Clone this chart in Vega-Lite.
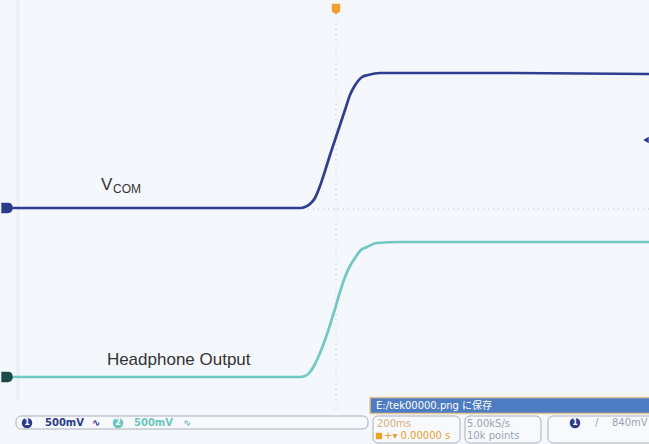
{
  "$schema": "https://vega.github.io/schema/vega-lite/v6.json",
  "width": 649,
  "height": 444,
  "padding": 0,
  "autosize": {"type": "none"},
  "background": "#f4f7fc",
  "config": {"view": {"stroke": null}, "font": "Liberation Sans"},
  "datasets": {
    "edge": [{"t": -993.75, "t2": -993.75, "v": 2.09, "v2": -1.91}],
    "dotted": [
      {"t": 0, "t2": 0, "v": 1.95, "v2": -2.03},
      {"t": -993.75, "t2": 978.125, "v": 0, "v2": 0}
    ],
    "traces": [
      {"ch": "VCOM", "t": -1025, "v": 0.01},
      {"ch": "VCOM", "t": -112.5, "v": 0.01},
      {"ch": "VCOM", "t": -96.875, "v": 0.02},
      {"ch": "VCOM", "t": -81.25, "v": 0.05},
      {"ch": "VCOM", "t": -65.625, "v": 0.11},
      {"ch": "VCOM", "t": -50, "v": 0.23},
      {"ch": "VCOM", "t": -34.375, "v": 0.38},
      {"ch": "VCOM", "t": -18.75, "v": 0.54},
      {"ch": "VCOM", "t": -3.125, "v": 0.69},
      {"ch": "VCOM", "t": 12.5, "v": 0.84},
      {"ch": "VCOM", "t": 28.125, "v": 0.99},
      {"ch": "VCOM", "t": 43.75, "v": 1.14},
      {"ch": "VCOM", "t": 56.25, "v": 1.22},
      {"ch": "VCOM", "t": 68.75, "v": 1.28},
      {"ch": "VCOM", "t": 81.25, "v": 1.32},
      {"ch": "VCOM", "t": 100, "v": 1.34},
      {"ch": "VCOM", "t": 137.5, "v": 1.36},
      {"ch": "VCOM", "t": 512.5, "v": 1.36},
      {"ch": "VCOM", "t": 978.125, "v": 1.35},
      {"ch": "HP", "t": -1025, "v": -1.68},
      {"ch": "HP", "t": -112.5, "v": -1.68},
      {"ch": "HP", "t": -96.875, "v": -1.67},
      {"ch": "HP", "t": -81.25, "v": -1.63},
      {"ch": "HP", "t": -65.625, "v": -1.55},
      {"ch": "HP", "t": -50, "v": -1.44},
      {"ch": "HP", "t": -34.375, "v": -1.31},
      {"ch": "HP", "t": -18.75, "v": -1.16},
      {"ch": "HP", "t": -3.125, "v": -1.0},
      {"ch": "HP", "t": 12.5, "v": -0.83},
      {"ch": "HP", "t": 28.125, "v": -0.68},
      {"ch": "HP", "t": 43.75, "v": -0.57},
      {"ch": "HP", "t": 59.375, "v": -0.49},
      {"ch": "HP", "t": 75, "v": -0.42},
      {"ch": "HP", "t": 96.875, "v": -0.38},
      {"ch": "HP", "t": 128.125, "v": -0.34},
      {"ch": "HP", "t": 200, "v": -0.33},
      {"ch": "HP", "t": 978.125, "v": -0.33}
    ],
    "ch1marker": [{"t": -1028, "v": 0.01}],
    "ch2marker": [{"t": -1028, "v": -1.68}],
    "trigLevel": [{"t": 968.75, "v": 0.69}],
    "trigPos": [{"t": 0, "v": 2.0}],
    "panels": [
      {"t": -1000, "t2": 100, "v": -2.07, "v2": -2.2},
      {"t": 115.6, "t2": 387.5, "v": -2.07, "v2": -2.34},
      {"t": 403.1, "t2": 640.6, "v": -2.07, "v2": -2.34},
      {"t": 662.5, "t2": 996.9, "v": -2.07, "v2": -2.34}
    ],
    "bar": [{"t": 106.25, "t2": 996.9, "v": -1.885, "v2": -2.045}],
    "labels": [
      {"t": -716, "v": -1.56, "s": "Headphone Output"}
    ],
    "vlabel": [{"t": -734, "v": 0.19, "s": "V"}],
    "sublabel": [{"t": -697, "v": 0.165, "s": "COM"}],
    "blueCircles": [{"t": -965.6, "v": -2.14, "s": "1"}, {"t": 746.9, "v": -2.14, "s": "1"}],
    "tealCircles": [{"t": -681.25, "v": -2.14, "s": "2"}],
    "blueText": [{"t": -909.4, "v": -2.14, "s": "500mV"}, {"t": -762.5, "v": -2.14, "s": "∿"}],
    "tealText": [{"t": -631.25, "v": -2.14, "s": "500mV"}, {"t": -478, "v": -2.14, "s": "∿"}],
    "barText": [{"t": 125, "v": -1.965, "s": "E:/tek00000.png に保存"}],
    "tanText": [{"t": 128.1, "v": -2.15, "s": "200ms"}],
    "orangeIcon": [{"t": 134.4, "v": -2.27}],
    "orangeText": [{"t": 150, "v": -2.27, "s": "+▾ 0.00000 s"}],
    "grayText": [
      {"t": 409.4, "v": -2.15, "s": "5.00kS/s"},
      {"t": 409.4, "v": -2.27, "s": "10k points"},
      {"t": 809.4, "v": -2.14, "s": "/"},
      {"t": 862.5, "v": -2.14, "s": "840mV"}
    ]
  },
  "encoding": {
    "x": {"field": "t", "type": "quantitative", "scale": {"domain": [-1050, 978.125], "nice": false, "zero": false}, "axis": null},
    "y": {"field": "v", "type": "quantitative", "scale": {"domain": [-2.35, 2.09], "nice": false, "zero": false}, "axis": null}
  },
  "layer": [
    {"data": {"name": "edge"}, "mark": {"type": "rule", "color": "#ebeef5", "strokeWidth": 3},
     "encoding": {"x2": {"field": "t2"}, "y2": {"field": "v2"}}},
    {"data": {"name": "dotted"}, "mark": {"type": "rule", "color": "#bcc3ce", "strokeWidth": 1, "strokeDash": [1, 4]},
     "encoding": {"x2": {"field": "t2"}, "y2": {"field": "v2"}}},
    {"data": {"name": "traces"}, "mark": {"type": "line", "strokeWidth": 2.7, "interpolate": "monotone"},
     "encoding": {"color": {"field": "ch", "type": "nominal", "scale": {"domain": ["VCOM", "HP"], "range": ["#2f3e90", "#72c8c2"]}, "legend": null}}},
    {"data": {"name": "ch1marker"}, "mark": {"type": "point", "shape": "M-1,-0.9 L0.1,-0.9 Q1,-0.9 1,0 Q1,0.9 0.1,0.9 L-1,0.9 Z", "filled": true, "opacity": 1, "color": "#2b3a8c", "size": 130}, "encoding": {}},
    {"data": {"name": "ch2marker"}, "mark": {"type": "point", "shape": "M-1,-0.9 L0.1,-0.9 Q1,-0.9 1,0 Q1,0.9 0.1,0.9 L-1,0.9 Z", "filled": true, "opacity": 1, "color": "#1c4a46", "size": 130}, "encoding": {}},
    {"data": {"name": "trigLevel"}, "mark": {"type": "point", "shape": "triangle-left", "filled": true, "opacity": 1, "color": "#2b3a8c", "size": 40}, "encoding": {}},
    {"data": {"name": "trigPos"}, "mark": {"type": "point", "shape": "M-0.8,-1 L0.8,-1 L0.8,0.5 L0,1 L-0.8,0.5 Z", "filled": true, "opacity": 1, "color": "#f0a030", "size": 110}, "encoding": {}},
    {"data": {"name": "panels"}, "mark": {"type": "rect", "fill": "#f7f9fc", "stroke": "#aab0bc", "strokeWidth": 1, "cornerRadius": 5},
     "encoding": {"x2": {"field": "t2"}, "y2": {"field": "v2"}}},
    {"data": {"name": "bar"}, "mark": {"type": "rect", "fill": "#4d7cc2", "stroke": "#e6c690", "strokeWidth": 1.5},
     "encoding": {"x2": {"field": "t2"}, "y2": {"field": "v2"}}},
    {"data": {"name": "labels"}, "mark": {"type": "text", "align": "left", "baseline": "alphabetic", "fontSize": 17, "color": "#333333", "font": "Liberation Sans"},
     "encoding": {"text": {"field": "s"}}},
    {"data": {"name": "vlabel"}, "mark": {"type": "text", "align": "left", "baseline": "alphabetic", "fontSize": 17, "color": "#333333", "font": "Liberation Sans"},
     "encoding": {"text": {"field": "s"}}},
    {"data": {"name": "sublabel"}, "mark": {"type": "text", "align": "left", "baseline": "alphabetic", "fontSize": 12, "color": "#333333", "font": "Liberation Sans"},
     "encoding": {"text": {"field": "s"}}},
    {"data": {"name": "blueCircles"}, "mark": {"type": "point", "shape": "circle", "filled": true, "opacity": 1, "color": "#2b3a8c", "size": 110}, "encoding": {}},
    {"data": {"name": "tealCircles"}, "mark": {"type": "point", "shape": "circle", "filled": true, "opacity": 1, "color": "#6cc6c0", "size": 110}, "encoding": {}},
    {"data": {"name": "blueCircles"}, "mark": {"type": "text", "fontSize": 8, "fontWeight": "bold", "color": "#ffffff", "baseline": "middle", "font": "DejaVu Sans"},
     "encoding": {"text": {"field": "s"}}},
    {"data": {"name": "tealCircles"}, "mark": {"type": "text", "fontSize": 8, "fontWeight": "bold", "color": "#ffffff", "baseline": "middle", "font": "DejaVu Sans"},
     "encoding": {"text": {"field": "s"}}},
    {"data": {"name": "blueText"}, "mark": {"type": "text", "align": "left", "baseline": "middle", "fontSize": 10, "fontWeight": "bold", "color": "#2b3a8c", "font": "DejaVu Sans"},
     "encoding": {"text": {"field": "s"}}},
    {"data": {"name": "tealText"}, "mark": {"type": "text", "align": "left", "baseline": "middle", "fontSize": 10, "fontWeight": "bold", "color": "#6cc6c0", "font": "DejaVu Sans"},
     "encoding": {"text": {"field": "s"}}},
    {"data": {"name": "barText"}, "mark": {"type": "text", "align": "left", "baseline": "middle", "fontSize": 10, "color": "#ffffff", "font": "DejaVu Sans, Noto Sans CJK JP"},
     "encoding": {"text": {"field": "s"}}},
    {"data": {"name": "tanText"}, "mark": {"type": "text", "align": "left", "baseline": "middle", "fontSize": 10, "color": "#d6b07a", "font": "DejaVu Sans"},
     "encoding": {"text": {"field": "s"}}},
    {"data": {"name": "orangeIcon"}, "mark": {"type": "point", "shape": "square", "filled": true, "opacity": 1, "color": "#f0a020", "size": 40}, "encoding": {}},
    {"data": {"name": "orangeText"}, "mark": {"type": "text", "align": "left", "baseline": "middle", "fontSize": 10, "color": "#e8a030", "font": "DejaVu Sans"},
     "encoding": {"text": {"field": "s"}}},
    {"data": {"name": "grayText"}, "mark": {"type": "text", "align": "left", "baseline": "middle", "fontSize": 10, "color": "#9ca3b0", "font": "DejaVu Sans"},
     "encoding": {"text": {"field": "s"}}}
  ]
}
